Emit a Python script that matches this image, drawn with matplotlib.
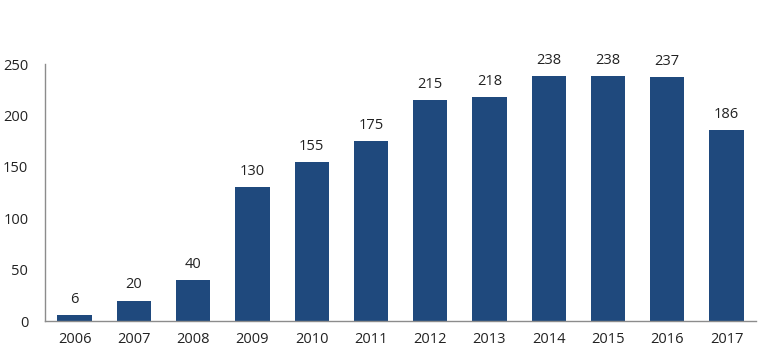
import matplotlib
matplotlib.use('Agg')
import matplotlib.pyplot as plt

# data
years = ['2006', '2007', '2008', '2009', '2010', '2011',
         '2012', '2013', '2014', '2015', '2016', '2017']
counts = [6, 20, 40, 130, 155, 175, 215, 218, 238, 238, 237, 186]

plt.rcParams['font.family'] = ['Open Sans', 'DejaVu Sans']

fig = plt.figure(figsize=(7.63, 3.56), dpi=100)
ax = fig.add_axes([0.059, 0.098, 0.932, 0.722])

x = range(len(years))
bars = ax.bar(x, counts, width=0.58, color='#1f497d')
for xi, v in zip(x, counts):
    ax.text(xi, v + 8, str(v), ha='center', va='bottom', fontsize=10.5, color='#222222')

ax.set_xlim(-0.5, len(years) - 0.5)
ax.set_ylim(0, 250)
ax.set_yticks([0, 50, 100, 150, 200, 250])
ax.set_xticks(list(x))
ax.set_xticklabels(years)
ax.tick_params(axis='both', length=0, labelsize=10.5, colors='#222222')
ax.tick_params(axis='x', pad=8)
ax.tick_params(axis='y', pad=12)

for s in ['top', 'right']:
    ax.spines[s].set_visible(False)
for s in ['left', 'bottom']:
    ax.spines[s].set_color('#8c8c8c')
    ax.spines[s].set_linewidth(1)

fig.savefig('out.png', dpi=100)
